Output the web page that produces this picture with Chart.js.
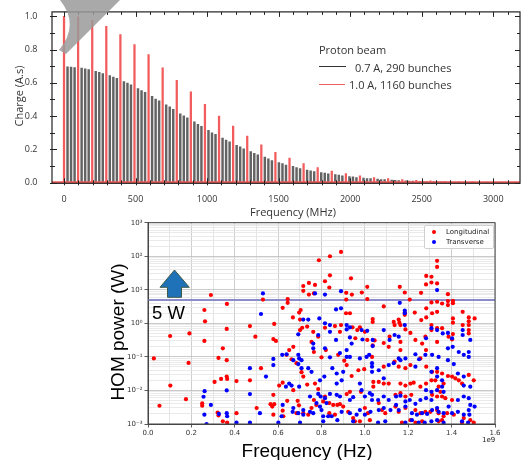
<!DOCTYPE html>
<html>
<head>
<meta charset="utf-8">
<title>Proton beam spectrum and HOM power</title>
<script src="https://cdn.jsdelivr.net/npm/chart.js@4.4.1/dist/chart.umd.min.js"></script>
<style>
  html, body { margin:0; padding:0; background:#ffffff; }
  body { position:relative; width:522px; height:460px; overflow:hidden; }
  canvas { position:absolute; display:block; }
  #topCanvas { left:0; top:0; }
  #botCanvas { left:100px; top:212px; }
  .lbl { position:absolute; white-space:nowrap; line-height:1; }
  .topfont { font-family:"Open Sans","DejaVu Sans",sans-serif; color:#333; font-size:11px; }
  .bigfont { font-family:"Liberation Sans",Arial,sans-serif; color:#000; font-size:19px; }
  .mplfont { font-family:"DejaVu Sans",sans-serif; color:#222; font-size:7px; }
  .rot { transform:translate(-50%,-50%) rotate(-90deg); }
  .ctr { transform:translate(-50%,-50%); }
  .vc { transform:translateY(-50%); }
  .box { position:absolute; }
  svg { position:absolute; left:0; top:0; }
</style>
</head>
<body>
<canvas id="botCanvas" width="422" height="248"></canvas>
<canvas id="topCanvas" width="522" height="222"></canvas>

<svg width="522" height="460">
  <path d="M60 0 L120 0 L66 54 L59 50 Q80 25 60 0 Z" fill="#9a9a9a" fill-opacity="0.85"/>
  <path d="M174.5 270 L189.3 287.3 L181.5 287.3 L181.5 297.3 L167.5 297.3 L167.5 287.3 L160 287.3 Z" fill="#1f72b8" stroke="#3d5a4a" stroke-width="1"/>
</svg>

<!-- top chart texts -->
<div class="lbl topfont rot" style="left:18px;top:96px;">Charge (A.s)</div>
<div class="lbl topfont ctr" style="left:293px;top:211px;">Frequency (MHz)</div>
<div class="lbl topfont vc" style="left:319px;top:49px;">Proton beam</div>
<div class="box" style="left:319px;top:66px;width:27px;height:1px;background:#333;"></div>
<div class="lbl topfont vc" style="left:355px;top:67px;">0.7 A, 290 bunches</div>
<div class="box" style="left:319px;top:83.5px;width:26px;height:1.5px;background:#f25c5c;"></div>
<div class="lbl topfont vc" style="left:349px;top:84px;">1.0 A, 1160 bunches</div>

<!-- bottom chart texts -->
<div class="lbl bigfont rot" style="left:117px;top:332px;">HOM power (W)</div>
<div class="lbl bigfont ctr" style="left:307px;top:450px;">Frequency (Hz)</div>
<div class="lbl bigfont vc" style="left:152px;top:313px;font-size:18.5px;">5 W</div>
<div class="lbl mplfont vc" style="left:482px;top:440px;">1e9</div>
<div class="box" style="left:424px;top:225px;width:68px;height:22px;border:1px solid #d0d0d0;border-radius:2px;background:rgba(255,255,255,0.9);"></div>
<div class="box" style="left:432px;top:229.5px;width:4px;height:4px;border-radius:50%;background:#ff0000;"></div>
<div class="lbl mplfont vc" style="left:446px;top:231.5px;">Longitudinal</div>
<div class="box" style="left:432px;top:239.5px;width:4px;height:4px;border-radius:50%;background:#0000ff;"></div>
<div class="lbl mplfont vc" style="left:446px;top:241.5px;">Transverse</div>

<script>
// ---------------- Top chart data (bunch spectra) ----------------
const redFreqMHz = [0, 98.5, 197, 295.5, 394, 492.5, 591, 689.5, 788, 886.5, 985, 1083.5, 1182, 1280.5, 1379,
  1477.5, 1576, 1674.5, 1773, 1871.5, 1970, 2068.5, 2167, 2265.5, 2364, 2462.5, 2561, 2659.5, 2758, 2856.5, 2955, 3053.5, 3152];
const redCharge = [1.0, 0.996, 0.976, 0.94, 0.89, 0.83, 0.77, 0.69, 0.615, 0.545, 0.47, 0.40, 0.34, 0.28, 0.227,
  0.182, 0.147, 0.114, 0.09, 0.069, 0.055, 0.041, 0.03, 0.024, 0.018, 0.014, 0.011, 0.008, 0.006, 0.005, 0.004, 0.003, 0.003];

const blackFreqMHz = [24.6, 49.3, 73.9, 123.1, 147.8, 172.4, 221.6, 246.3, 270.9, 320.1, 344.8, 369.4, 418.6, 443.3, 467.9,
  517.1, 541.8, 566.4, 615.6, 640.3, 664.9, 714.1, 738.8, 763.4, 812.6, 837.3, 861.9, 911.1, 935.8, 960.4,
  1009.6, 1034.3, 1058.9, 1108.1, 1132.8, 1157.4, 1206.6, 1231.3, 1255.9, 1305.1, 1329.8, 1354.4, 1403.6, 1428.3, 1452.9,
  1502.1, 1526.8, 1551.4, 1600.6, 1625.3, 1649.9, 1699.1, 1723.8, 1748.4, 1797.6, 1822.3, 1846.9, 1896.1, 1920.8, 1945.4,
  1994.6, 2019.3, 2043.9, 2093.1, 2117.8, 2142.4, 2191.6, 2216.3, 2240.9, 2290.1, 2314.8, 2339.4, 2388.6, 2413.3, 2437.9,
  2487.1, 2511.8, 2536.4, 2585.6, 2610.3, 2634.9, 2684.1, 2708.8, 2733.4];
const blackCharge = [0.696, 0.694, 0.692, 0.688, 0.684, 0.680, 0.669, 0.663, 0.655, 0.643, 0.635, 0.627, 0.608, 0.598, 0.588,
  0.565, 0.553, 0.543, 0.518, 0.502, 0.492, 0.467, 0.455, 0.441, 0.414, 0.402, 0.390, 0.365, 0.351, 0.339,
  0.314, 0.300, 0.290, 0.267, 0.255, 0.245, 0.224, 0.215, 0.203, 0.186, 0.176, 0.167, 0.153, 0.143, 0.133,
  0.120, 0.114, 0.106, 0.098, 0.090, 0.084, 0.076, 0.071, 0.067, 0.061, 0.057, 0.053, 0.049, 0.045, 0.041,
  0.037, 0.035, 0.031, 0.027, 0.025, 0.024, 0.021, 0.019, 0.018, 0.016, 0.014, 0.013, 0.011, 0.010, 0.009,
  0.008, 0.007, 0.0065, 0.006, 0.0055, 0.005, 0.004, 0.004, 0.0035];

const topXTicks = [0, 500, 1000, 1500, 2000, 2500, 3000];
const topYTicks = [0, 0.2, 0.4, 0.6, 0.8, 1.0];

// ---------------- Bottom chart data: [frequency GHz, HOM power W] ----------------
const longitudinalPts = [
  [0.027,0.09],[0.053,0.0035],[0.102,0.42],[0.103,0.014],[0.175,0.0055],[0.191,0.5],[0.187,0.066],[0.29,7],[0.26,2.5],
  [0.263,1.15],[0.26,0.3],[0.345,0.18],[0.325,0.093],[0.364,3.8],[0.363,0.68],[0.363,0.08],[0.363,0.026],[0.365,0.022],
  [0.337,0.022],[0.307,0.018],[0.408,0.019],[0.408,0.0021],[0.321,0.0022],[0.325,0.0018],[0.345,0.0012],[0.365,0.0011],
  [0.25,0.0041],[0.25,0.0035],
  [0.89,135],[0.839,100],[0.788,76],[0.839,27],[0.816,18],[0.77,14],[0.742,16],[0.716,13],[0.716,9.3],[0.742,7.2],
  [0.765,7.8],[0.836,11.7],[0.936,22],[0.914,8.1],[0.94,7.2],[0.914,5.1],[0.986,8.3],[1.011,12.3],[1.011,5.3],
  [0.644,5.3],[0.644,4.1],[0.621,2.9],[0.53,5.1],[0.704,2.5],[0.697,2.1],[0.668,1.5],[0.701,1.3],[0.582,0.96],
  [0.495,0.4],[0.578,0.34],[0.59,0.3],[0.521,0.046],[0.47,0.83],[0.47,0.02],[0.651,0.16],[0.67,0.2],[0.639,0.115],
  [0.662,0.085],[0.701,0.63],[0.711,0.74],[0.734,0.8],[0.762,0.56],[0.754,0.28],[0.785,0.4],[0.816,0.74],[0.862,0.83],
  [0.885,0.56],[0.89,0.89],[0.913,2.0],[0.931,2.0],[0.943,0.76],[0.965,0.63],[0.977,0.76],[0.956,0.36],[1.0,0.56],
  [1.036,1.35],[1.036,1.1],[1.011,0.32],[1.036,0.22],[0.765,0.14],[0.82,0.16],[0.8,0.097],[0.877,0.115],[0.905,0.077],
  [0.916,0.057],[0.939,0.027],[0.97,0.04],[0.997,0.043],[1.039,0.018],[1.039,0.013],[0.621,0.017],[0.605,0.014],
  [0.578,0.0074],[0.642,0.0049],[0.67,0.0102],[0.716,0.026],[0.734,0.015],[0.708,0.035],[0.685,0.065],[0.565,0.0039],
  [0.582,0.0039],[0.573,0.0033],[0.501,0.003],[0.578,0.0019],[0.621,0.0025],[0.624,0.0017],[0.69,0.0049],[0.696,0.0036],
  [0.685,0.0021],[0.754,0.003],[0.776,0.0037],[0.808,0.0047],[0.816,0.0066],[0.836,0.0042],[0.854,0.0037],[0.873,0.0037],
  [0.885,0.0039],[0.836,0.0021],[0.862,0.0019],[0.9,0.0033],[0.923,0.0023],[0.946,0.0015],[0.954,0.0012],[0.977,0.0012],
  [1.0,0.003],[1.014,0.0021],[1.023,0.0013],[0.916,0.0078],[0.931,0.0091],[0.982,0.0091],[0.77,0.016],[0.785,0.011],
  [0.716,0.0021],[0.739,0.0019],[0.765,0.0052],
  [1.333,73],[1.333,48],[1.283,26],[1.307,24.5],[1.307,16.5],[1.282,14.5],[1.333,15.5],[1.161,12.3],[1.184,8.3],
  [1.259,8.1],[1.383,7.4],[1.307,4.2],[1.333,4.4],[1.356,3.9],[1.383,4.6],[1.406,4.7],[1.383,3.5],[1.406,4.0],
  [1.207,5.1],[1.087,3.2],[1.283,2.8],[1.333,2.2],[1.31,2.0],[1.23,2.1],[1.184,2.1],[1.184,1.8],[1.26,1.25],[1.283,1.5],
  [1.133,1.1],[1.156,1.3],[1.159,1.05],[1.164,0.89],[1.137,0.89],[1.406,1.4],[1.406,1.05],[1.451,2.2],[1.479,1.5],
  [1.479,1.15],[1.479,0.89],[1.506,1.4],[1.451,0.89],[1.479,0.63],[1.479,0.5],[1.406,0.48],[1.386,0.4],[1.402,0.33],
  [1.333,0.72],[1.307,0.89],[1.307,0.63],[1.356,0.72],[1.333,0.28],[1.087,0.26],[1.114,0.4],[1.11,0.2],[1.164,0.28],
  [1.164,0.16],[1.187,0.66],[1.21,0.52],[1.233,0.32],[1.264,0.25],[1.279,0.4],[1.282,0.16],[1.045,0.31],[1.033,0.1],
  [1.087,0.051],[1.137,0.072],[1.156,0.051],[1.187,0.046],[1.21,0.057],[1.256,0.09],[1.283,0.051],[1.31,0.036],
  [1.333,0.036],[1.356,0.032],[1.363,0.016],[1.383,0.027],[1.402,0.026],[1.417,0.023],[1.433,0.02],[1.448,0.016],
  [1.479,0.029],[1.502,0.02],[1.064,0.018],[1.087,0.016],[1.11,0.016],[1.164,0.016],[1.187,0.014],[1.21,0.016],
  [1.225,0.017],[1.256,0.013],[1.282,0.016],[1.307,0.02],[1.325,0.02],[1.34,0.013],[1.348,0.0091],[1.356,0.0066],
  [1.141,0.0074],[1.164,0.0083],[1.187,0.0066],[1.214,0.0074],[1.31,0.0074],[1.333,0.0066],[1.371,0.0059],[1.402,0.0052],
  [1.064,0.0042],[1.079,0.0026],[1.094,0.0021],[1.141,0.0033],[1.156,0.0023],[1.187,0.003],[1.233,0.0026],[1.256,0.0021],
  [1.279,0.0023],[1.302,0.0023],[1.333,0.0026],[1.34,0.0021],[1.363,0.0017],[1.379,0.0021],[1.41,0.0019],[1.456,0.0015],
  [1.486,0.0013],[1.502,0.0011],[1.171,0.0011],[1.21,0.0013],[1.233,0.0011],[1.264,0.0012],[1.34,0.0012],[1.356,0.0013],
  [1.448,0.0011]
];

const transversePts = [
  [0.261,0.0095],[0.256,0.0065],[0.26,0.0019],[0.29,0.0037],[0.27,0.001],[0.327,0.002],[0.363,0.01],[0.363,0.0021],
  [0.365,0.0017],[0.408,0.0011],
  [0.53,7.8],[0.521,1.9],[0.77,7.8],[0.816,7.2],[0.89,9.1],[0.867,2.6],[0.89,2.8],[0.716,1.3],[0.739,1.3],[0.79,1.4],
  [0.816,1.0],[0.839,0.89],[0.839,0.56],[0.916,0.89],[0.931,0.76],[0.916,0.66],[0.785,0.45],[0.693,0.47],[0.762,0.25],
  [0.762,0.18],[0.816,0.18],[0.839,0.097],[0.867,0.32],[0.885,0.13],[0.916,0.16],[0.931,0.38],[0.939,0.25],[0.916,0.1],
  [0.931,0.1],[0.985,0.63],[0.989,0.33],[1.011,0.6],[1.036,0.32],[1.036,0.21],[0.619,0.115],[0.639,0.12],[0.67,0.08],
  [0.693,0.115],[0.697,0.09],[0.693,0.061],[0.708,0.08],[0.578,0.087],[0.578,0.057],[0.47,0.046],[0.47,0.0078],
  [0.544,0.026],[0.651,0.016],[0.662,0.014],[0.636,0.013],[0.697,0.013],[0.708,0.046],[0.739,0.046],[0.754,0.036],
  [0.793,0.02],[0.813,0.026],[0.85,0.046],[0.87,0.032],[0.87,0.016],[0.893,0.02],[0.9,0.036],[0.977,0.09],[1.008,0.1],
  [1.02,0.115],[0.785,0.0079],[0.796,0.0066],[0.816,0.0059],[0.747,0.0066],[0.777,0.0042],[0.823,0.0042],[0.839,0.0079],
  [0.87,0.0074],[0.885,0.0066],[0.931,0.0052],[0.946,0.0063],[0.977,0.016],[0.985,0.0102],[1.0,0.0066],[1.023,0.0083],
  [0.621,0.0037],[0.67,0.003],[0.667,0.0023],[0.693,0.0021],[0.716,0.0026],[0.716,0.0019],[0.747,0.0023],[0.762,0.0021],
  [0.793,0.0033],[0.8,0.0026],[0.808,0.0017],[0.831,0.0017],[0.847,0.0017],[0.873,0.0013],[0.893,0.0023],[0.931,0.0021],
  [0.946,0.0012],[0.962,0.0019],[0.977,0.0026],[1.0,0.0019],[1.026,0.0023],[0.516,0.0021],[0.616,0.0017],[0.601,0.0011],
  [0.701,0.0011],[0.808,0.0012],[0.47,0.0011],
  [1.333,9.8],[1.161,4.1],[1.184,2.4],[1.184,2.0],[1.087,0.63],[1.114,0.32],[1.137,0.45],[1.156,0.4],[1.184,0.89],
  [1.233,0.12],[1.25,0.085],[1.31,0.115],[1.279,0.115],[1.34,0.1],[1.282,0.36],[1.307,0.72],[1.333,0.63],[1.359,0.5],
  [1.383,0.52],[1.402,0.36],[1.383,0.18],[1.405,0.2],[1.433,0.14],[1.456,0.115],[1.479,0.14],[1.479,0.1],[1.486,0.32],
  [1.451,0.63],[1.451,0.45],[1.156,0.09],[1.164,0.08],[1.187,0.09],[1.133,0.065],[1.11,0.057],[1.033,0.065],
  [1.033,0.051],[1.033,0.036],[1.064,0.04],[1.087,0.023],[1.233,0.051],[1.307,0.036],[1.333,0.046],[1.383,0.08],
  [1.41,0.061],[1.429,0.032],[1.456,0.026],[1.456,0.014],[1.486,0.013],[1.333,0.026],[1.356,0.02],[1.356,0.013],
  [1.282,0.0102],[1.307,0.0091],[1.333,0.0102],[1.363,0.0091],[1.033,0.0074],[1.033,0.0052],[1.061,0.0052],
  [1.087,0.0066],[1.11,0.0052],[1.144,0.0066],[1.164,0.007],[1.187,0.0047],[1.207,0.0052],[1.233,0.004],[1.256,0.0052],
  [1.282,0.0059],[1.307,0.0052],[1.386,0.0033],[1.429,0.0052],[1.456,0.0066],[1.479,0.0059],[1.486,0.0037],
  [1.064,0.0026],[1.087,0.003],[1.118,0.0026],[1.144,0.0037],[1.156,0.0026],[1.187,0.0033],[1.217,0.0021],[1.24,0.0019],
  [1.264,0.0021],[1.287,0.002],[1.31,0.0026],[1.333,0.003],[1.34,0.0023],[1.363,0.0021],[1.402,0.0021],[1.429,0.0023],
  [1.456,0.0019],[1.479,0.0026],[1.482,0.0019],[1.506,0.0033],[1.061,0.0011],[1.094,0.0012],[1.187,0.0011],
  [1.217,0.0013],[1.248,0.0011],[1.276,0.0011],[1.307,0.0012],[1.333,0.0013],[1.363,0.0011],[1.448,0.0012],[1.476,0.0011]
];

const thresholdW = 5;
const xGridGHz = [0, 0.1, 0.2, 0.3, 0.4, 0.5, 0.6, 0.7, 0.8, 0.9, 1.0, 1.1, 1.2, 1.3, 1.4, 1.5, 1.6];
const xLabelGHz = [0, 0.2, 0.4, 0.6, 0.8, 1.0, 1.2, 1.4, 1.6];
const yDecadeExps = [-3, -2, -1, 0, 1, 2, 3];

// ---------------- Top chart ----------------
const topFrame = {
  id: 'topFrame',
  afterDatasetsDraw(chart) {
    const { ctx, chartArea: a, scales: { x, y } } = chart;
    ctx.save();
    const y0 = y.getPixelForValue(0);
    ctx.strokeStyle = '#f25c5c';
    ctx.lineWidth = 2;
    ctx.beginPath(); ctx.moveTo(a.left, y0 - 0.5); ctx.lineTo(a.right, y0 - 0.5); ctx.stroke();
    ctx.strokeStyle = '#222';
    ctx.lineWidth = 1.2;
    ctx.strokeRect(a.left, a.top, a.right - a.left, a.bottom - a.top);
    ctx.lineWidth = 1;
    ctx.beginPath();
    for (let v = 0; v <= 3100; v += 100) {
      const px = Math.round(x.getPixelForValue(v)) + 0.5;
      const L = (v % 500 === 0) ? 5 : 3;
      ctx.moveTo(px, a.bottom - L); ctx.lineTo(px, a.bottom + 2);
      ctx.moveTo(px, a.top); ctx.lineTo(px, a.top + L);
    }
    for (let i = 0; i <= 10; i++) {
      const py = Math.round(y.getPixelForValue(i / 10)) + 0.5;
      const L = (i % 2 === 0) ? 5 : 3;
      ctx.moveTo(a.left - 2, py); ctx.lineTo(a.left + L, py);
      ctx.moveTo(a.right, py); ctx.lineTo(a.right - L, py);
    }
    ctx.stroke();
    ctx.restore();
  }
};

new Chart(document.getElementById('topCanvas'), {
  type: 'bar',
  data: {
    datasets: [
      { label: '1.0 A, 1160 bunches', data: redFreqMHz.map((f, i) => ({ x: f, y: redCharge[i] })),
        backgroundColor: '#f25c5c', borderWidth: 0, barThickness: 1.6, grouped: false },
      { label: '0.7 A, 290 bunches', data: blackFreqMHz.map((f, i) => ({ x: f, y: blackCharge[i] })),
        backgroundColor: 'rgba(60,60,60,0.8)', borderWidth: 0, barThickness: 1.8, grouped: false }
    ]
  },
  options: {
    responsive: false,
    animation: false,
    layout: { padding: { top: 8.3, right: 2, left: 0, bottom: 0 } },
    plugins: { legend: { display: false }, tooltip: { enabled: false } },
    scales: {
      x: {
        type: 'linear', min: -84, max: 3187, offset: false,
        afterBuildTicks: s => { s.ticks = topXTicks.map(v => ({ value: v })); },
        afterFit: s => { s.height = 38.7; },
        grid: { display: false, offset: false },
        border: { display: false },
        ticks: { autoSkip: false, maxRotation: 0, padding: 3, color: '#333',
                 font: { family: '"Open Sans", sans-serif', size: 9 }, callback: v => String(v) }
      },
      y: {
        type: 'linear', min: -0.004, max: 1.026,
        afterBuildTicks: s => { s.ticks = topYTicks.map(v => ({ value: v })); },
        afterFit: s => { s.width = 52; },
        grid: { display: false },
        border: { display: false },
        ticks: { autoSkip: false, padding: 6.5, color: '#333',
                 font: { family: '"Open Sans", sans-serif', size: 9 }, callback: v => Number(v).toFixed(1) }
      }
    }
  },
  plugins: [topFrame]
});

// ---------------- Bottom chart ----------------
const isPow10 = v => Math.abs(Math.log10(v) - Math.round(Math.log10(v))) < 1e-9;
const supMap = { '-': '\u207B', '0': '\u2070', '1': '\u00B9', '2': '\u00B2', '3': '\u00B3' };
const sup = n => String(n).split('').map(c => supMap[c]).join('');
const yLogTicks = [];
for (let e = -3; e <= 2; e++) { for (let m = 1; m <= 9; m++) yLogTicks.push(m * Math.pow(10, e)); }
yLogTicks.push(1000);

const botFrame = {
  id: 'botFrame',
  afterDraw(chart) {
    const { ctx, chartArea: a } = chart;
    ctx.save();
    ctx.strokeStyle = '#444';
    ctx.lineWidth = 1;
    ctx.strokeRect(a.left, a.top, a.right - a.left, a.bottom - a.top);
    ctx.restore();
  }
};

new Chart(document.getElementById('botCanvas'), {
  type: 'scatter',
  data: {
    datasets: [
      { label: 'Transverse', data: transversePts.map(p => ({ x: p[0] * 1e9, y: p[1] })),
        backgroundColor: '#0000ff', borderWidth: 0, pointRadius: 2.1, clip: 0 },
      { label: 'Longitudinal', data: longitudinalPts.map(p => ({ x: p[0] * 1e9, y: p[1] })),
        backgroundColor: '#ff0000', borderWidth: 0, pointRadius: 2.1, clip: 0 },
      { type: 'line', label: '5 W', data: [{ x: xGridGHz[0] * 1e9, y: thresholdW }, { x: xGridGHz[xGridGHz.length - 1] * 1e9, y: thresholdW }],
        borderColor: '#8c8cc8', borderWidth: 2, pointRadius: 0, showLine: true, fill: false }
    ]
  },
  options: {
    responsive: false,
    animation: false,
    layout: { padding: { top: 10.7, right: 27, left: 0, bottom: 0 } },
    plugins: { legend: { display: false }, tooltip: { enabled: false } },
    scales: {
      x: {
        type: 'linear', min: 0, max: 1.6e9,
        afterBuildTicks: s => { s.ticks = xGridGHz.map(v => ({ value: v * 1e9 })); },
        afterFit: s => { s.height = 36; },
        grid: {
          color: c => (xLabelGHz.some(g => Math.abs(g * 1e9 - c.tick.value) < 1) ? '#c2c2c2' : '#dedede'),
          lineWidth: 0.8, tickLength: 3.5,
          tickColor: c => (xLabelGHz.some(g => Math.abs(g * 1e9 - c.tick.value) < 1) ? '#333' : 'rgba(0,0,0,0)')
        },
        border: { color: '#444', width: 1 },
        ticks: {
          autoSkip: false, maxRotation: 0, padding: 1, color: '#333',
          font: { family: '"DejaVu Sans", sans-serif', size: 7 },
          callback: v => {
            const g = xLabelGHz.find(t => Math.abs(t * 1e9 - v) < 1);
            return g === undefined ? '' : g.toFixed(1);
          }
        }
      },
      y: {
        type: 'logarithmic', min: 1e-3, max: 1e3,
        afterBuildTicks: s => { s.ticks = yLogTicks.map(v => ({ value: v, major: isPow10(v) })); },
        afterFit: s => { s.width = 48; },
        grid: {
          color: c => (isPow10(c.tick.value) ? '#bcbcbc' : '#e4e4e4'),
          lineWidth: 0.8, tickLength: 3.5,
          tickColor: c => (isPow10(c.tick.value) ? '#333' : 'rgba(0,0,0,0)')
        },
        border: { color: '#444', width: 1 },
        ticks: {
          autoSkip: false, padding: 2, color: '#333',
          font: { family: '"DejaVu Sans", sans-serif', size: 7 },
          callback: v => {
            if (!isPow10(v)) return '';
            const e = Math.round(Math.log10(v));
            return yDecadeExps.includes(e) ? '10' + sup(e) : '';
          }
        }
      }
    }
  },
  plugins: [botFrame]
});
</script>
</body>
</html>
